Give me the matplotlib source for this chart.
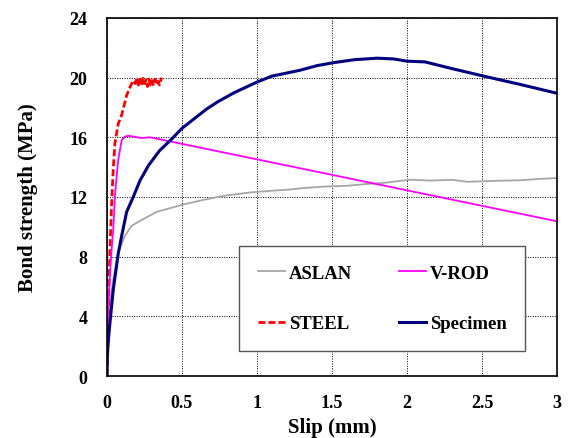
import matplotlib.pyplot as plt

plt.rcParams['font.family'] = ['Liberation Serif', 'DejaVu Serif']
plt.rcParams['font.weight'] = 'bold'

# ASLAN (grey)
aslan_x = [0, 0.005, 0.01, 0.02, 0.042, 0.075, 0.12, 0.164, 0.22, 0.276, 0.33, 0.42, 0.51,
           0.64, 0.78, 0.95, 1.1, 1.22, 1.29, 1.45, 1.6, 1.73, 1.85, 2.02, 2.15, 2.3, 2.4,
           2.5, 2.62, 2.75, 2.9, 3.0]
aslan_y = [0, 1.5, 3.0, 5.0, 6.5, 8.3, 9.4, 10.07, 10.4, 10.7, 11.0, 11.25, 11.5,
           11.8, 12.08, 12.3, 12.42, 12.5, 12.58, 12.7, 12.75, 12.87, 12.95, 13.16, 13.1, 13.15, 13.02,
           13.05, 13.09, 13.12, 13.22, 13.27]

# V-ROD (magenta)
vrod_x = [0, 0.005, 0.009, 0.02, 0.031, 0.042, 0.053, 0.075, 0.098, 0.12, 0.142, 0.175, 0.23, 0.287, 3.0]
vrod_y = [0, 1.4, 4.7, 6.8, 8.5, 9.85, 12.1, 14.5, 15.8, 16.05, 16.1, 16.05, 15.95, 16.0, 10.37]

# STEEL (red dashed)
steel_x = [0, 0.005, 0.009, 0.02, 0.031, 0.042, 0.053, 0.075, 0.098, 0.131, 0.155, 0.175,
           0.19, 0.2, 0.21, 0.22, 0.23, 0.24, 0.25, 0.26, 0.27, 0.28, 0.29, 0.3, 0.31, 0.32,
           0.33, 0.34, 0.35, 0.364]
steel_y = [0, 1.4, 4.7, 8.5, 11.6, 13.9, 15.6, 16.9, 17.5, 18.8, 19.4, 19.8,
           19.6, 20.0, 19.5, 19.9, 19.45, 19.95, 19.6, 19.85, 19.4, 19.9, 19.5, 19.8, 19.45, 19.9,
           19.55, 19.75, 19.5, 20.0]

# Specimen (navy)
spec_x = [0, 0.002, 0.01, 0.02, 0.042, 0.075, 0.098, 0.131, 0.175, 0.22, 0.276, 0.35, 0.431,
          0.5, 0.576, 0.665, 0.742, 0.85, 1.0, 1.1, 1.22, 1.29, 1.4, 1.51, 1.65, 1.8, 1.91,
          2.0, 2.12, 2.3, 2.51, 2.75, 3.0]
spec_y = [0, 1.4, 2.5, 3.6, 5.8, 8.2, 9.4, 11.0, 12.0, 13.1, 14.1, 15.1, 15.88,
          16.6, 17.2, 17.9, 18.4, 19.0, 19.7, 20.1, 20.35, 20.5, 20.8, 21.0, 21.2, 21.3, 21.25,
          21.1, 21.05, 20.6, 20.1, 19.55, 18.95]

fig = plt.figure(figsize=(5.69, 4.39), dpi=100)
ax = fig.add_axes([0.188, 0.141, 0.791, 0.816])

l_aslan, = ax.plot(aslan_x, aslan_y, color='#a6a6a6', lw=1.3, label='ASLAN')
l_steel, = ax.plot(steel_x, steel_y, color='red', lw=2, ls=(0, (2.5, 1.1)), label='STEEL')
l_vrod, = ax.plot(vrod_x, vrod_y, color='magenta', lw=1.3, label='V-ROD')
l_spec, = ax.plot(spec_x, spec_y, color='#000080', lw=2.2, label='Specimen')

ax.set_xlim(0, 3)
ax.set_ylim(0, 24)
ax.set_xticks([0, 0.5, 1, 1.5, 2, 2.5, 3])
ax.set_xticklabels(['0', '0.5', '1', '1.5', '2', '2.5', '3'])
ax.set_yticks(range(0, 25, 4))
ax.tick_params(length=0, labelsize=13)
ax.tick_params(axis='x', pad=13)
ax.tick_params(axis='y', pad=14)
ax.grid(True, color='black', ls=(0, (1, 1.5)), lw=0.7)
for s in ax.spines.values():
    s.set_linewidth(1.2)

ax.set_xlabel('Slip (mm)', fontsize=15, fontweight='bold', labelpad=4)
ax.set_ylabel('Bond strength (MPa)', fontsize=15, fontweight='bold', labelpad=23)

leg = ax.legend(handles=[l_aslan, l_steel, l_vrod, l_spec], ncol=2, loc='upper left',
                bbox_to_anchor=(239 / 569, 1 - 247 / 439), bbox_transform=fig.transFigure,
                borderaxespad=0, fancybox=False, framealpha=1, edgecolor='#555555',
                labelspacing=1.77, handlelength=1.45, handletextpad=0.2, borderpad=1.0,
                columnspacing=2.5, prop={'weight': 'bold', 'size': 13.5})
leg.get_frame().set_linewidth(1.0)

fig.savefig('out.png', dpi=100)
